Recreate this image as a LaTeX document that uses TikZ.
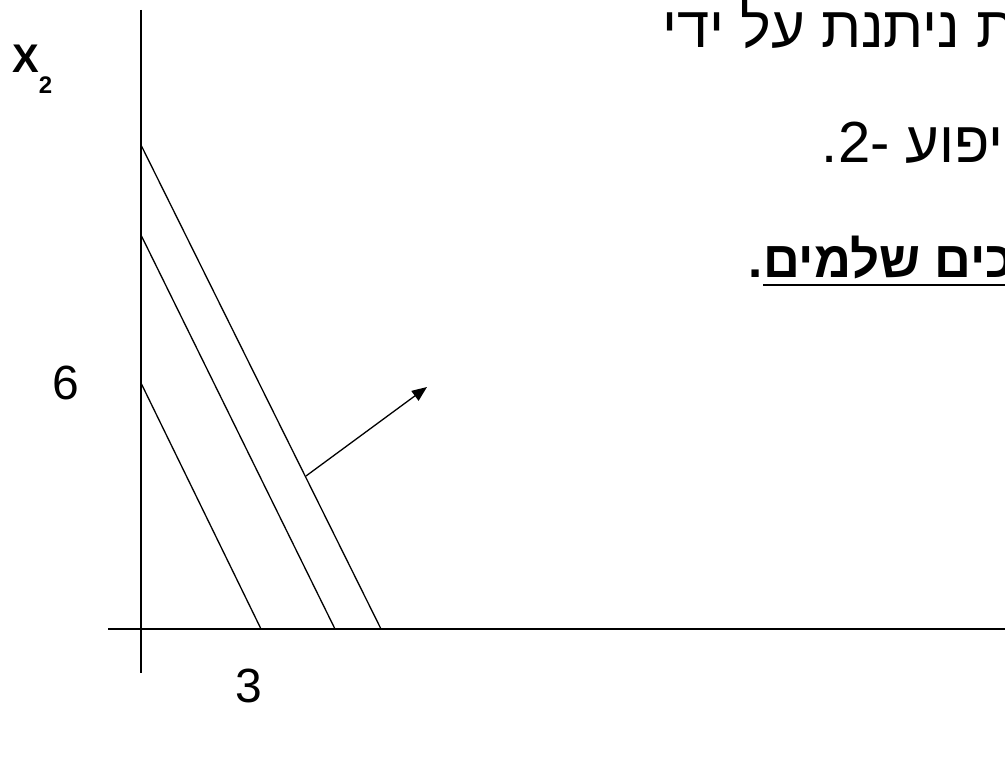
\documentclass[tikz,border=0pt]{standalone}
\usepackage{fontspec}
\setmainfont{Liberation Sans}
\newfontfamily\hebfont[Script=Hebrew]{Liberation Sans}
\newfontfamily\axisbold{Liberation Sans Bold}
\TeXXeTstate=1
\usetikzlibrary{arrows.meta}
\begin{document}
\begin{tikzpicture}[x=1pt,y=-1pt,
  axis/.style={line width=1.6pt},
  cline/.style={line width=1.3pt},
  txt/.style={inner sep=0pt, font=\fontsize{58}{66}\selectfont},
  lbl/.style={inner sep=0pt, font=\fontsize{48}{58}\selectfont}]
\useasboundingbox (0,0) rectangle (1005,775);
% axes
\coordinate (ytop) at (141,10);
\coordinate (ybot) at (141,673);
\coordinate (xl) at (108,629);
\coordinate (xr) at (1005,629);
\draw[axis] (ytop) -- (ybot);
\draw[axis] (xl) -- (xr);
% lines
\coordinate (a1) at (141,383); \coordinate (b1) at (261,629);
\coordinate (a2) at (141,235); \coordinate (b2) at (335,629);
\coordinate (a3) at (141,145); \coordinate (b3) at (381,629);
\draw[cline] (a1) -- (b1);
\draw[cline] (a2) -- (b2);
\draw[cline] (a3) -- (b3);
% gradient arrow
\coordinate (g0) at (306,476);
\coordinate (g1) at (427,387);
\draw[cline,-{Triangle[length=15pt,width=12pt]}] (g0) -- (g1);
% labels
\node[inner sep=0pt, anchor=base west] (x2) at (12,73) {\axisbold\fontsize{40}{46}\selectfont X\raisebox{-21pt}{\fontsize{24}{28}\selectfont 2}};
\node[lbl] (six) at (66,383) {6};
\node[lbl] (three) at (249,686) {3};
% Hebrew text
\node[txt, anchor=base west] (t1) at (662,48) {\hebfont\beginR ת ניתנת על ידי\endR};
\node[txt, anchor=base east] (t2) at (1004,163) {\hebfont\beginR יפוע -2.\endR};
\node[txt, anchor=base west] (t3) at (763,278) {\hebfont\bfseries\fontsize{51}{60}\selectfont\beginR ערכים שלמים\endR};
\node[txt, anchor=base east] (t3p) at (t3.base west) {\axisbold\fontsize{51}{60}\selectfont .};
\draw[line width=2.6pt] ([yshift=-7pt]t3.base west) -- ([yshift=-7pt]t3.base east);
\end{tikzpicture}
\end{document}
